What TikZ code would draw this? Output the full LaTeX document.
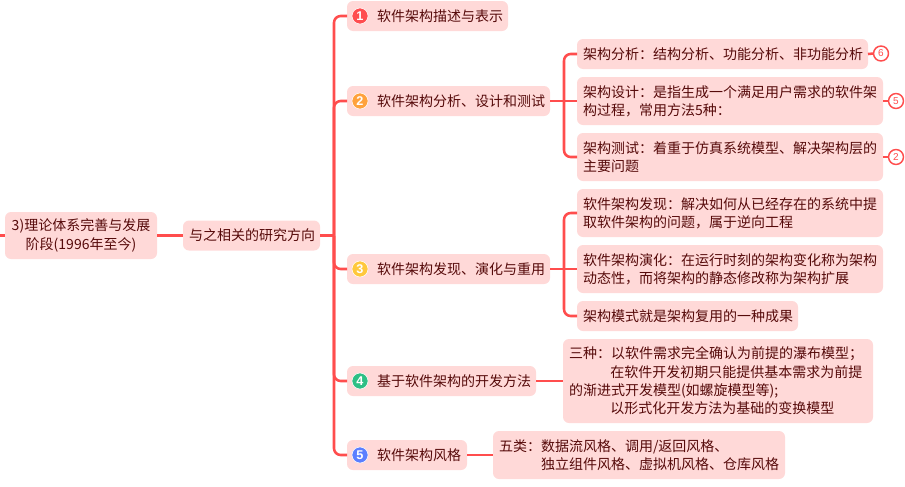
\documentclass[tikz,border=0pt]{standalone}
\usepackage{fontspec}
\setmainfont{Noto Sans CJK SC}
\newfontfamily\numfont{Liberation Sans}
\newcommand\zc{\char"FF1A\relax}
\newcommand\zd{\char"FF0C\relax}
\newcommand\zf{\char"FF1B\relax}
\definecolor{boxfill}{HTML}{FFD9D8}
\definecolor{linec}{HTML}{FF4D4D}
\definecolor{textc}{HTML}{560A0A}
\definecolor{bred}{HTML}{FF4D4F}
\definecolor{borange}{HTML}{FFA23C}
\definecolor{byellow}{HTML}{FFC83C}
\definecolor{bgreen}{HTML}{2DBF85}
\definecolor{bblue}{HTML}{5B7FFF}
\tikzset{
  px/.style={x=0.75pt,y=-0.75pt},
  boxbase/.style={fill=boxfill,rounded corners=4.5pt,anchor=north west,inner xsep=4.5pt,inner ysep=0pt,
    text=textc,font=\fontsize{10.5pt}{13.7pt}\selectfont,outer sep=0pt},
  bx/.style 2 args={boxbase,minimum width=#1*0.75pt,minimum height=#2*0.75pt,text width=#1*0.75pt-9pt,align=left},
  bxc/.style 2 args={boxbase,minimum width=#1*0.75pt,minimum height=#2*0.75pt,text width=#1*0.75pt-9pt,align=center},
  conn/.style={draw=linec,line width=1.9pt,rounded corners=5pt},
  badge/.style={circle,fill=#1,draw=white,line width=0.4pt,minimum size=12pt,inner sep=0pt,text=white,
    font=\numfont\bfseries\fontsize{9.5pt}{10pt}\selectfont},
  tag/.style={circle,fill=white,draw=linec,line width=1.1pt,minimum size=11.2pt,inner sep=0pt,text=linec,
    font=\numfont\fontsize{7.5pt}{8pt}\selectfont,outer sep=0pt},
}
\begin{document}
\begin{tikzpicture}[px]
\useasboundingbox (0,0) rectangle (905,486);
\coordinate (stub) at (0,235.5);
\coordinate (t1) at (334,235.5);
\coordinate (t2) at (564,101);
\coordinate (t3) at (564,269);
\node[bxc={152}{47}] (root) at (5,212) {3)理论体系完善与发展\\阶段(1996年至今)};
\node[bxc={137}{30}] (mid) at (183,220.5) {与之相关的研究方向};
\node[bx={161}{30}] (n1) at (347,1) {\hspace*{18pt}软件架构描述与表示};
\node[bx={203}{30}] (n2) at (347,86) {\hspace*{18pt}软件架构分析、设计和测试};
\node[bx={203}{30}] (n3) at (347,254) {\hspace*{18pt}软件架构发现、演化与重用};
\node[bx={189}{30}] (n4) at (347,366) {\hspace*{18pt}基于软件架构的开发方法};
\node[bx={120}{30}] (n5) at (347,440) {\hspace*{18pt}软件架构风格};
\node[badge={bred}] (b1) at (360,16) {1};
\node[badge={borange}] (b2) at (360,101) {2};
\node[badge={byellow}] (b3) at (360,269) {3};
\node[badge={bgreen}] (b4) at (360,381) {4};
\node[badge={bblue}] (b5) at (360,455) {5};
\node[bx={291}{30}] (a) at (577,39) {架构分析\zc 结构分析、功能分析、非功能分析};
\node[bx={306}{48}] (b) at (577,77) {架构设计\zc 是指生成一个满足用户需求的软件架\\构过程\zd 常用方法5种\zc};
\node[bx={306}{48}] (c) at (577,133) {架构测试\zc 着重于仿真系统模型、解决架构层的\\主要问题};
\node[bx={306}{48}] (d) at (577,189) {软件架构发现\zc 解决如何从已经存在的系统中提\\取软件架构的问题\zd 属于逆向工程};
\node[bx={306}{48}] (e) at (577,245) {软件架构演化\zc 在运行时刻的架构变化称为架构\\动态性\zd 而将架构的静态修改称为架构扩展};
\node[bx={221}{30}] (f) at (577,301) {架构模式就是架构复用的一种成果};
\node[bx={310}{84}] (g) at (563,339) {三种\zc 以软件需求完全确认为前提的瀑布模型\zf\\\hspace*{31pt}在软件开发初期只能提供基本需求为前提\\的渐进式开发模型(如螺旋模型等);\\\hspace*{31pt}以形式化开发方法为基础的变换模型};
\node[bx={292}{48}] (h) at (493,431) {五类\zc 数据流风格、调用/返回风格、\\\hspace*{31.5pt}独立组件风格、虚拟机风格、仓库风格};
\node[tag] (ta) at (881,53.5) {6};
\node[tag] (tb) at (896,101) {5};
\node[tag] (tc) at (896,157) {2};
\draw[conn] (stub) -- (root.west |- stub);
\draw[conn] (root.east |- mid.west) -- (mid.west);
\draw[conn] (mid.east) -- (t1);
\draw[conn] (t1) |- (n1.west);
\draw[conn] (t1) |- (n2.west);
\draw[conn] (t1) |- (n3.west);
\draw[conn] (t1) |- (n4.west);
\draw[conn] (t1) |- (n5.west);
\draw[conn] (n2.east) -- (t2);
\draw[conn] (t2) |- (a.west);
\draw[conn] (t2) -- (b.west);
\draw[conn] (t2) |- (c.west);
\draw[conn] (n3.east) -- (t3);
\draw[conn] (t3) |- (d.west);
\draw[conn] (t3) -- (e.west);
\draw[conn] (t3) |- (f.west);
\draw[conn] (n4.east) -- (g.west |- n4.east);
\draw[conn] (n5.east) -- (h.west |- n5.east);
\draw[conn] (a.east) -- (ta.west);
\draw[conn] (b.east) -- (tb.west);
\draw[conn] (c.east) -- (tc.west);
\end{tikzpicture}
\end{document}
